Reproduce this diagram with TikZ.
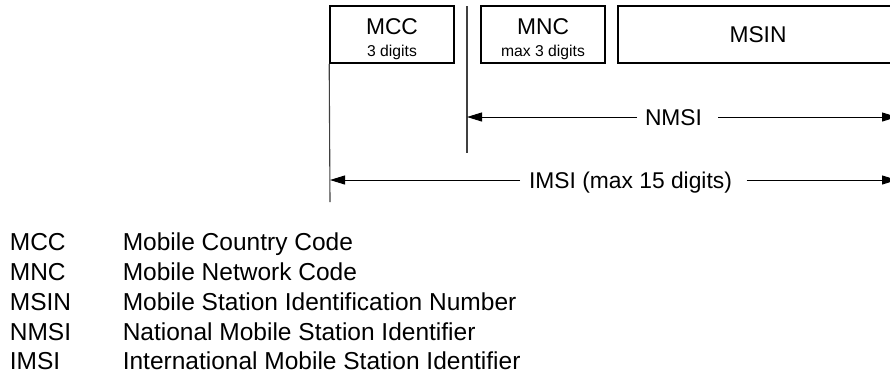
\documentclass[tikz,border=0pt]{standalone}
\usepackage{fontspec}
\setmainfont{Liberation Sans}
\usetikzlibrary{arrows.meta}
\begin{document}
\begin{tikzpicture}[x=1pt,y=-1pt,
  box/.style={draw=black,line width=1.6pt,inner sep=0pt,fill=none},
  big/.style={inner sep=0pt,anchor=base,font=\fontsize{22.8}{26}\selectfont},
  small/.style={inner sep=0pt,anchor=base,font=\fontsize{15.7}{18}\selectfont},
  leg/.style={inner sep=0pt,anchor=base west,font=\fontsize{24.5}{28}\selectfont},
  tick/.style={draw=black!75,line width=1.1pt},
  dim/.style={draw=black,line width=1pt,-{Triangle[length=15pt,width=9pt]}},
  dimline/.style={draw=black,line width=1pt}]
\useasboundingbox (0,0) rectangle (890,376);
\clip (0,0) rectangle (890,376);
% boxes
\node[box,minimum width=124pt,minimum height=57pt] (mcc) at (392,34.5) {};
\node[box,minimum width=124pt,minimum height=57pt] (mnc) at (543,34.5) {};
\node[box,minimum width=277pt,minimum height=57pt] (msin) at (756.5,34.5) {};
\node[big] (mcct) at (392,34.5) {MCC};
\node[small] (mccd) at (392,56.5) {3 digits};
\node[big] (mnct) at (543,34.5) {MNC};
\node[small] (mncd) at (543,56.5) {max 3 digits};
\node[big] (msint) at (758,42) {MSIN};
% vertical reference lines
\coordinate (vtop) at (467,6);
\coordinate (vbot) at (467,153);
\coordinate (lbot) at (330,202);
\draw[tick] (vtop) -- (vbot);
\draw[tick] (mcc.south west) -- (lbot);
% NMSI
\node[big] (nmsi) at (673.5,125.3) {NMSI};
\coordinate (nl) at (637,117);
\coordinate (nr) at (718,117);
\coordinate (nrend) at (897,117);
\coordinate (nlend) at (467,117);
\draw[dim] (nl) -- (nlend);
\draw[dim] (nr) -- (nrend);
% IMSI
\node[big] (imsi) at (630.5,188.3) {IMSI (max 15 digits)};
\coordinate (il) at (520,180);
\coordinate (ir) at (746.5,180);
\coordinate (irend) at (897,180);
\coordinate (ilend) at (330,180);
\draw[dim] (il) -- (ilend);
\draw[dim] (ir) -- (irend);
% legend
\node[leg] (k1) at (9.7,250.5) {MCC};
\node[leg] (k2) at (9.7,280.3) {MNC};
\node[leg] (k3) at (9.7,310) {MSIN};
\node[leg] (k4) at (9.7,340) {NMSI};
\node[leg] (k5) at (9.7,369.7) {IMSI};
\node[leg] (d1) at (122.6,250.5) {Mobile Country Code};
\node[leg] (d2) at (122.6,280.3) {Mobile Network Code};
\node[leg] (d3) at (122.6,310) {Mobile Station Identification Number};
\node[leg] (d4) at (122.6,340) {National Mobile Station Identifier};
\node[leg] (d5) at (122.6,369.7) {International Mobile Station Identifier};
\end{tikzpicture}
\end{document}
